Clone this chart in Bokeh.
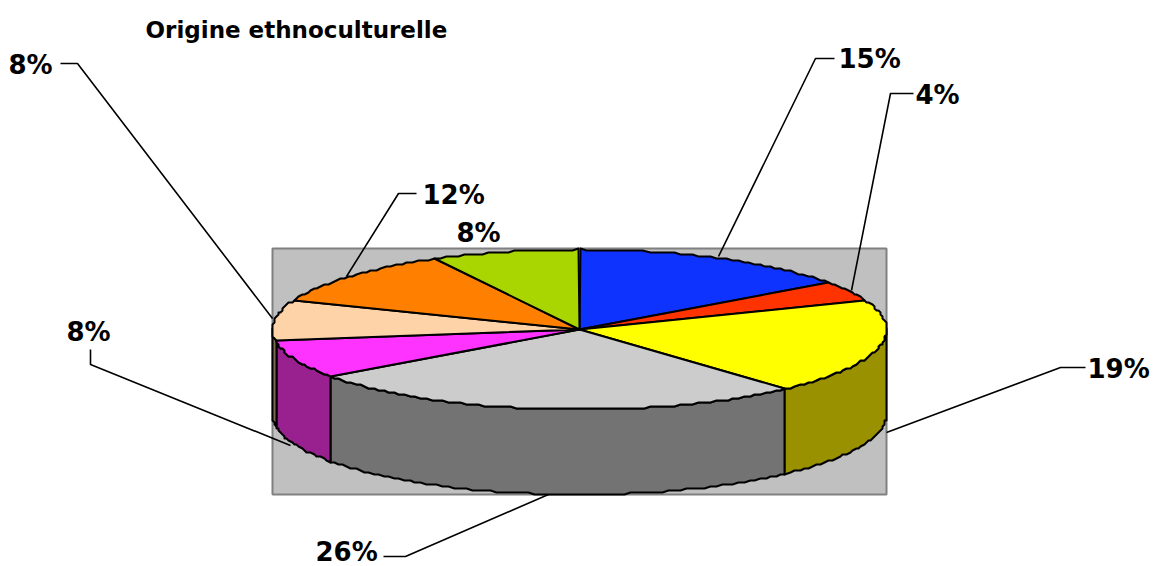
import math
from bokeh.plotting import figure
from bokeh.embed import file_html
from bokeh.resources import INLINE
from bokeh.core.properties import value

# --- data ---
title_text = "Origine ethnoculturelle"
shares = [15.0, 4.0, 19.3, 26.7, 7.7, 8.3, 11.2, 7.8]
labels = ["15%", "4%", "19%", "26%", "8%", "8%", "12%", "8%"]
top_colors = ["#0F33FF", "#FF3300", "#FFFF00", "#CCCCCC", "#FF33FF", "#FFD3A8", "#FF7F00", "#A9D600"]
side_colors = ["#081A80", "#801A00", "#999100", "#737373", "#99218F", "#806A54", "#804000", "#556B00"]

# --- layout ---
CX, CY, RX, RY, DEPTH = 579.0, 329.0, 307.0, 80.0, 85.0
GRID = 2.0
label_xy = [(838, 58), (915, 94), (1087, 368), (315, 551), (66, 331), (8, 64), (422, 194), (456, 232)]
leaders = [
    [(834, 58), (815, 58), (718, 256)],
    [(913, 93), (890, 93), (851, 290)],
    [(1085, 367), (1060, 367), (886, 432)],
    [(383, 556), (405, 556), (548, 494)],
    [(90, 349), (90, 364), (290, 445)],
    [(60, 63), (77, 63), (272, 318)],
    [(416, 193), (398, 193), (346, 276)],
]

p = figure(width=1154, height=566, x_range=(0, 1154), y_range=(566, 0),
           output_backend="svg", toolbar_location=None, min_border=0,
           outline_line_color=None, border_fill_color="white", background_fill_color="white")
p.axis.visible = False
p.grid.visible = False


def rim(deg, dy=0.0):
    a = math.radians(deg)
    x = CX + RX * math.sin(a)
    y = CY - RY * math.cos(a) + dy
    return round(x / GRID) * GRID, round(y / GRID) * GRID


def arc(a0, a1, dy=0.0):
    n = max(2, int(abs(a1 - a0) / 1.2))
    return [rim(a0 + (a1 - a0) * i / n, dy) for i in range(n + 1)]


# plot area
p.quad(left=[272], right=[886], top=[248], bottom=[494], fill_color="#C0C0C0",
       line_color="#808080", line_width=2)

total = sum(shares)
edges = [0.0]
for s in shares:
    edges.append(edges[-1] + 360.0 * s / total)

# sides: only the front half of the disc shows
for i in range(len(shares)):
    lo, hi = max(edges[i], 90.0), min(edges[i + 1], 270.0)
    if hi <= lo:
        continue
    pts = arc(lo, hi) + arc(hi, lo, DEPTH)
    p.patch([q[0] for q in pts], [q[1] for q in pts], fill_color=side_colors[i],
            line_color="black", line_width=2, line_join="round")

# top faces
for i in range(len(shares)):
    pts = [(CX, CY)] + arc(edges[i], edges[i + 1])
    p.patch([q[0] for q in pts], [q[1] for q in pts], fill_color=top_colors[i],
            line_color="black", line_width=2, line_join="round")

# leaders
for seg in leaders:
    p.line([q[0] for q in seg], [q[1] for q in seg], line_color="black", line_width=1.6)

# labels
p.text(x=[q[0] for q in label_xy], y=[q[1] for q in label_xy], text=labels,
       text_font=value("DejaVu Sans"), text_font_style="bold", text_font_size="26px",
       text_color="black", text_align="left", text_baseline="middle")
p.text(x=[145], y=[29], text=[title_text], text_font=value("DejaVu Sans"),
       text_font_style="bold", text_font_size="23px", text_color="black",
       text_align="left", text_baseline="middle")

open("out.html", "w").write(file_html(p, INLINE))
